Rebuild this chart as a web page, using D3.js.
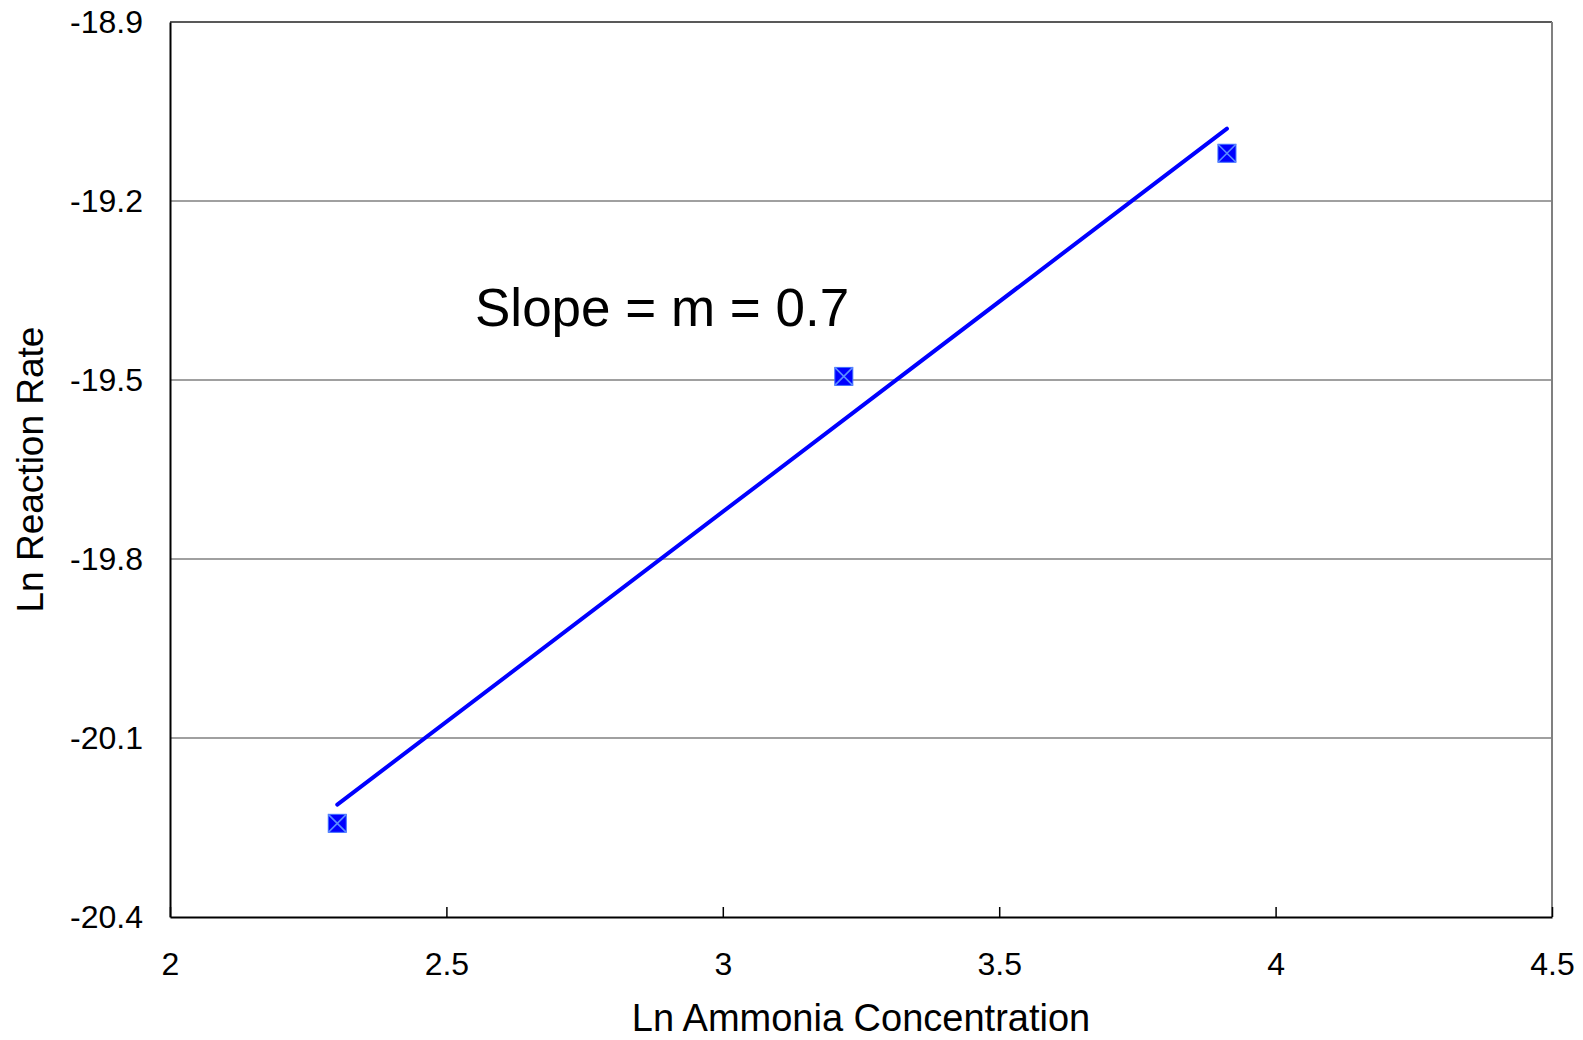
<!DOCTYPE html>
<html>
<head>
<meta charset="utf-8">
<script src="https://cdn.jsdelivr.net/npm/d3@7"></script>
<style>
  html, body { margin: 0; padding: 0; background: #fff; }
  svg { display: block; font-family: "Liberation Sans", Arial, sans-serif; }
</style>
</head>
<body>
<svg id="chart" width="1583" height="1040"></svg>
<script>
// Measured points: ln of ammonia concentration vs ln of reaction rate
const lnAmmonia = [2.3026, 3.2189, 3.912];
const lnRate = [-20.243, -19.494, -19.12];

// Axis ticks
const xTicks = [2, 2.5, 3, 3.5, 4, 4.5];
const yTicks = [-18.9, -19.2, -19.5, -19.8, -20.1, -20.4];

const slopeLabel = "Slope = m = 0.7";
const xTitle = "Ln Ammonia Concentration";
const yTitle = "Ln Reaction Rate";

const svg = d3.select("#chart");
const plotLeft = 170, plotRight = 1552, plotTop = 22, plotBottom = 917;

const x = d3.scaleLinear().domain([2, 4.5]).range([plotLeft, plotRight]);
const y = d3.scaleLinear().domain([-20.4, -18.9]).range([plotBottom, plotTop]);

// Horizontal gridlines
svg.append("g")
  .selectAll("line")
  .data(yTicks.filter(v => v > -20.4 && v < -18.9))
  .join("line")
  .attr("x1", plotLeft).attr("x2", plotRight)
  .attr("y1", d => y(d)).attr("y2", d => y(d))
  .attr("stroke", "#808080").attr("stroke-width", 1.3);

// Plot frame: dark top, grey right side
svg.append("line").attr("x1", plotLeft).attr("x2", plotRight).attr("y1", plotTop).attr("y2", plotTop)
  .attr("stroke", "#222").attr("stroke-width", 1.5);
svg.append("line").attr("x1", plotRight).attr("x2", plotRight).attr("y1", plotTop).attr("y2", plotBottom)
  .attr("stroke", "#808080").attr("stroke-width", 2);

// X axis with inward ticks
const xAxis = svg.append("g")
  .attr("transform", `translate(0,${plotBottom})`)
  .call(d3.axisBottom(x).tickValues(xTicks).tickSizeInner(-10).tickSizeOuter(0)
    .tickFormat(d3.format("")));
xAxis.select(".domain").attr("stroke", "#000").attr("stroke-width", 2);
xAxis.selectAll(".tick line").attr("stroke", "#000").attr("stroke-width", 1.5);
xAxis.selectAll(".tick text")
  .attr("y", 58).attr("dy", 0)
  .attr("font-size", 32).attr("fill", "#000")
  .attr("font-family", "Liberation Sans, Arial, sans-serif");

// Y axis
const yAxis = svg.append("g")
  .attr("transform", `translate(${plotLeft},0)`)
  .call(d3.axisLeft(y).tickValues(yTicks).tickSize(0).tickPadding(27)
    .tickFormat(d => d.toFixed(1)));
yAxis.select(".domain").attr("stroke", "#000").attr("stroke-width", 2);
yAxis.selectAll(".tick text")
  .attr("font-size", 32).attr("fill", "#000")
  .attr("font-family", "Liberation Sans, Arial, sans-serif");

// Least-squares trend line through the points
const mx = d3.mean(lnAmmonia), my = d3.mean(lnRate);
const sxy = d3.sum(lnAmmonia, (v, i) => (v - mx) * (lnRate[i] - my));
const sxx = d3.sum(lnAmmonia, v => (v - mx) * (v - mx));
const slope = sxy / sxx, intercept = my - slope * mx;
const xEnds = d3.extent(lnAmmonia);
svg.append("path")
  .datum(xEnds.map(v => [v, intercept + slope * v]))
  .attr("d", d3.line().x(d => x(d[0])).y(d => y(d[1])))
  .attr("fill", "none").attr("stroke", "#0000ff").attr("stroke-width", 4)
  .attr("stroke-linecap", "round");

// Square markers with a cross
const s = 9;
const markers = svg.append("g")
  .selectAll("g")
  .data(lnAmmonia.map((v, i) => [v, lnRate[i]]))
  .join("g")
  .attr("transform", d => `translate(${x(d[0])},${y(d[1])})`);
markers.append("rect")
  .attr("x", -s).attr("y", -s).attr("width", 2 * s).attr("height", 2 * s)
  .attr("fill", "#0000ff").attr("stroke", "#3f6fff").attr("stroke-width", 1);
markers.append("path")
  .attr("d", `M${-s},${-s}L${s},${s}M${-s},${s}L${s},${-s}`)
  .attr("stroke", "#5b8cff").attr("stroke-width", 1.6);

// Slope annotation
svg.append("text")
  .attr("x", 475).attr("y", 326)
  .attr("font-size", 53).attr("fill", "#000")
  .text(slopeLabel);

// Axis titles
svg.append("text")
  .attr("x", (plotLeft + plotRight) / 2).attr("y", 1031)
  .attr("text-anchor", "middle").attr("font-size", 38).attr("fill", "#000")
  .text(xTitle);
svg.append("text")
  .attr("transform", `translate(43,${(plotTop + plotBottom) / 2}) rotate(-90)`)
  .attr("text-anchor", "middle").attr("font-size", 37).attr("fill", "#000")
  .text(yTitle);
</script>
</body>
</html>
